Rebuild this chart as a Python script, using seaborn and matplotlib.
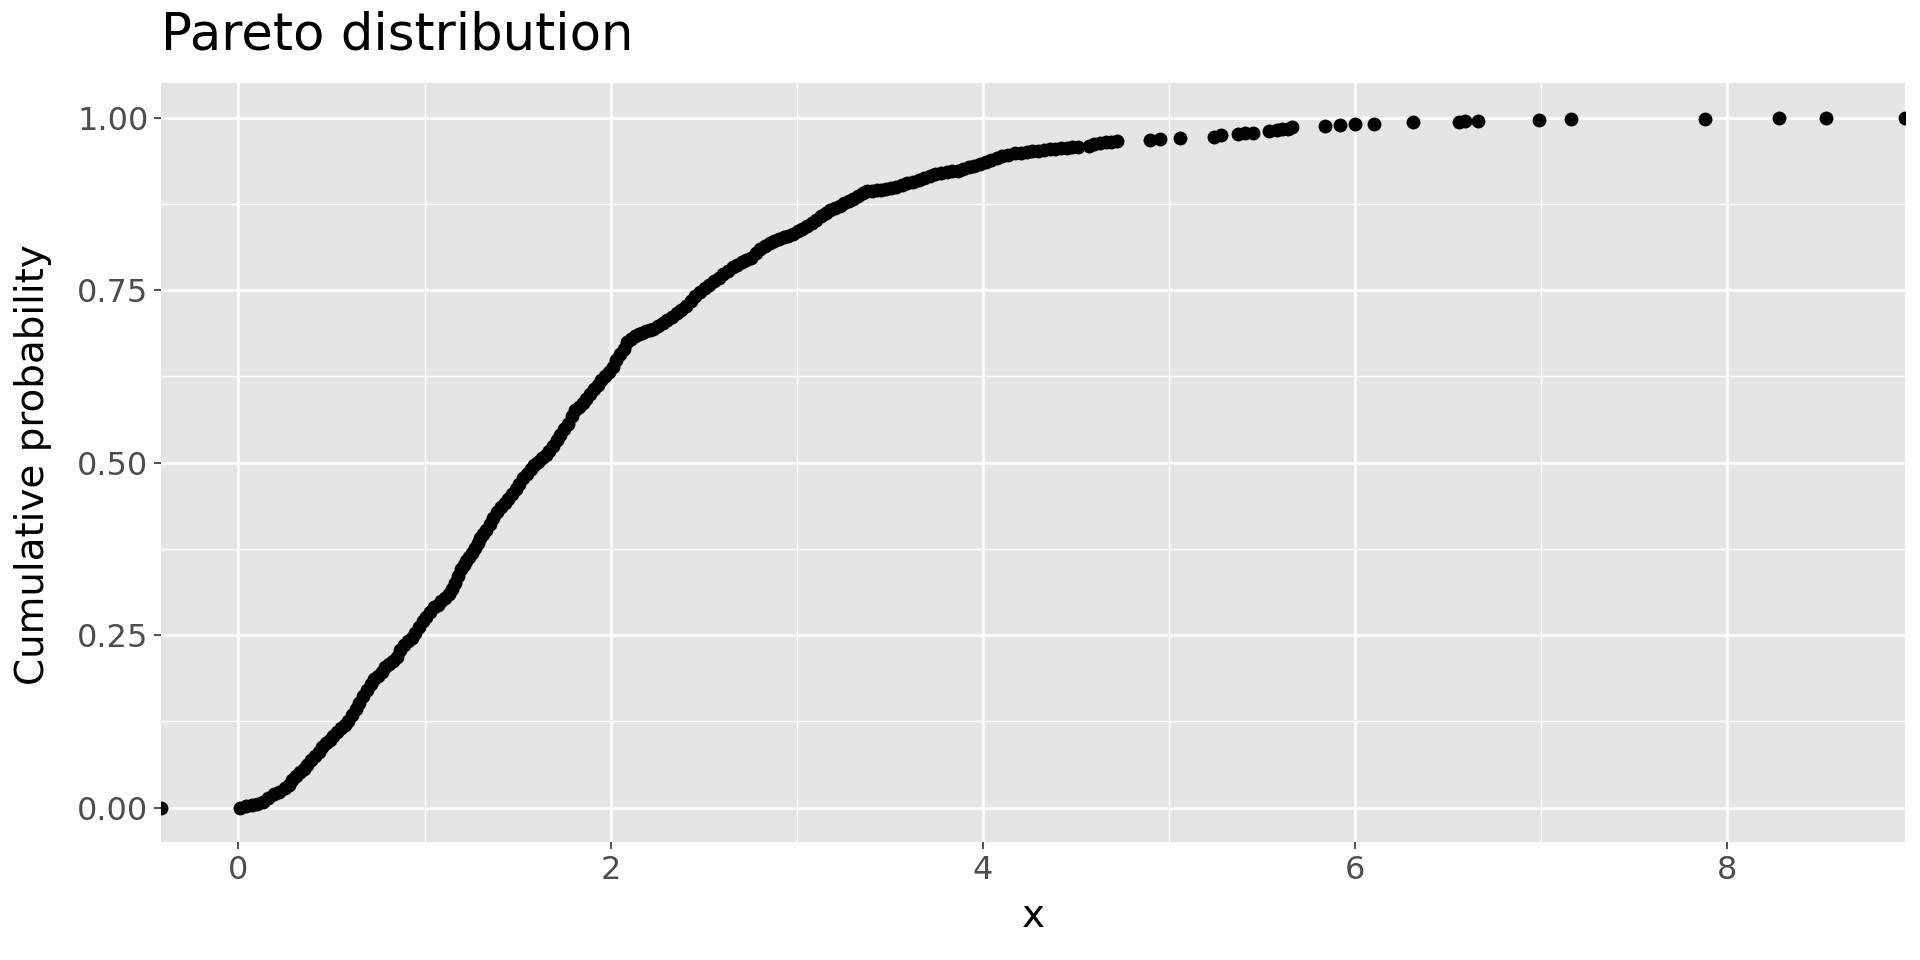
"""
Recreate the empirical CDF chart of a Pareto-like sample (ggplot look).
"""

import matplotlib

matplotlib.use("Agg")
import matplotlib.pyplot as plt
import pandas as pd
import seaborn as sns

TITLE = "Pareto distribution"
X_LABEL = "x"
Y_LABEL = "Cumulative probability"

# ECDF points (x value, cumulative probability)
ecdf_x = [
    0.01, 0.04, 0.07, 0.10, 0.13, 0.16, 0.19, 0.22, 0.25,
    0.27, 0.29, 0.31, 0.33, 0.35, 0.37, 0.39, 0.41, 0.43, 0.45, 0.47, 0.49, 0.51, 0.53, 0.55,
    0.57, 0.59, 0.61, 0.63, 0.65, 0.67, 0.69, 0.71, 0.73, 0.75, 0.77,
    0.79, 0.81, 0.83, 0.85, 0.87, 0.89, 0.91, 0.93, 0.95, 0.97, 0.99, 1.01,
    1.03, 1.05, 1.07, 1.09, 1.11, 1.13, 1.15,
    1.165, 1.18, 1.195, 1.21, 1.225, 1.24, 1.255, 1.27, 1.285, 1.30, 1.315, 1.33,
    1.35, 1.37, 1.39, 1.41, 1.43, 1.45, 1.47, 1.49, 1.51, 1.53, 1.55, 1.57,
    1.59, 1.61, 1.63, 1.65, 1.67, 1.69, 1.71, 1.73, 1.75, 1.77,
    1.79, 1.81, 1.83, 1.85, 1.87, 1.89, 1.91, 1.93, 1.95, 1.97, 1.99, 2.01, 2.03, 2.05, 2.07,
    2.09, 2.11, 2.13, 2.15, 2.17, 2.19, 2.21, 2.23,
    2.255, 2.28, 2.305, 2.33, 2.355, 2.38, 2.405, 2.43, 2.455, 2.48,
    2.505, 2.53, 2.555, 2.58, 2.605, 2.63, 2.655, 2.68, 2.705, 2.73, 2.755,
    2.78, 2.805, 2.83, 2.855, 2.88, 2.905, 2.93, 2.955, 2.98, 3.005,
    3.03, 3.055, 3.08, 3.105, 3.13, 3.155, 3.18, 3.205, 3.23, 3.255, 3.28, 3.305, 3.33, 3.355, 3.38,
    3.405, 3.43, 3.455, 3.48, 3.505,
    3.535, 3.565, 3.595, 3.625, 3.655, 3.685, 3.715, 3.745, 3.775, 3.805, 3.835,
    3.865, 3.895, 3.925, 3.955, 3.985, 4.015, 4.045, 4.075, 4.105, 4.135,
    4.175, 4.205, 4.235, 4.265, 4.295, 4.33, 4.36, 4.39, 4.42, 4.45, 4.48, 4.51,
    4.57, 4.60, 4.63, 4.66, 4.69, 4.72,
    4.90, 4.95, 5.06, 5.24, 5.28, 5.37, 5.41, 5.45, 5.54, 5.58, 5.61, 5.64, 5.66,
    5.84, 5.92, 6.00, 6.10, 6.31, 6.56, 6.59, 6.66, 6.99, 7.16, 7.88, 8.28, 8.53,
]
ecdf_y = [
    0.000, 0.002, 0.003, 0.005, 0.008, 0.014, 0.019, 0.022, 0.028,
    0.033, 0.040, 0.046, 0.051, 0.056, 0.062, 0.069, 0.075, 0.081, 0.087, 0.093, 0.098, 0.104, 0.109, 0.115,
    0.120, 0.126, 0.134, 0.143, 0.152, 0.162, 0.171, 0.179, 0.186, 0.191, 0.196,
    0.203, 0.208, 0.212, 0.218, 0.228, 0.236, 0.241, 0.246, 0.253, 0.262, 0.270, 0.276,
    0.283, 0.290, 0.294, 0.299, 0.304, 0.310, 0.317,
    0.326, 0.336, 0.345, 0.352, 0.358, 0.363, 0.369, 0.376, 0.383, 0.390, 0.396, 0.402,
    0.411, 0.419, 0.428, 0.436, 0.441, 0.447, 0.454, 0.461, 0.469, 0.477, 0.484, 0.490,
    0.496, 0.501, 0.506, 0.511, 0.517, 0.524, 0.532, 0.540, 0.548, 0.556,
    0.568, 0.576, 0.581, 0.586, 0.592, 0.599, 0.606, 0.612, 0.619, 0.625, 0.631, 0.639, 0.648, 0.657, 0.665,
    0.674, 0.679, 0.683, 0.686, 0.688, 0.690, 0.692, 0.694,
    0.698, 0.702, 0.706, 0.711, 0.716, 0.721, 0.727, 0.734, 0.741, 0.747,
    0.753, 0.758, 0.763, 0.768, 0.773, 0.778, 0.783, 0.787, 0.790, 0.793, 0.797,
    0.803, 0.809, 0.814, 0.818, 0.821, 0.824, 0.827, 0.829, 0.831, 0.835,
    0.839, 0.843, 0.847, 0.852, 0.857, 0.862, 0.866, 0.869, 0.872, 0.876, 0.879, 0.882, 0.886, 0.890, 0.893,
    0.894, 0.895, 0.895, 0.896, 0.898,
    0.900, 0.902, 0.905, 0.907, 0.910, 0.912, 0.915, 0.918, 0.920, 0.921, 0.922,
    0.923, 0.925, 0.928, 0.930, 0.933, 0.936, 0.939, 0.941, 0.944, 0.946,
    0.948, 0.949, 0.950, 0.951, 0.952, 0.953, 0.954, 0.955, 0.956, 0.956, 0.957, 0.957,
    0.959, 0.961, 0.963, 0.964, 0.965, 0.966,
    0.968, 0.969, 0.970, 0.972, 0.974, 0.976, 0.977, 0.978, 0.980, 0.982, 0.983, 0.984, 0.986,
    0.988, 0.989, 0.990, 0.991, 0.993, 0.994, 0.995, 0.995, 0.997, 0.998, 0.998, 0.999, 1.000,
]

# ggplot's stat_ecdf pads with (-Inf, 0) and (+Inf, 1): drawn on the panel edges
pad_edge = [0.0, 1.0]
pad_y = [0.0, 1.0]

x_ticks = [0, 2, 4, 6, 8]
x_minor = [1, 3, 5, 7]
y_ticks = [0.0, 0.25, 0.50, 0.75, 1.00]
y_tick_labels = ["0.00", "0.25", "0.50", "0.75", "1.00"]
y_minor = [0.125, 0.375, 0.625, 0.875]

PANEL_BG = "#E5E5E5"
POINT_SIZE = 100


def main() -> None:
    df = pd.DataFrame({"x": ecdf_x, "p": ecdf_y})

    sns.set_theme(style="darkgrid", rc={"axes.facecolor": PANEL_BG})
    plt.rcParams["font.family"] = ["DejaVu Sans"]

    fig = plt.figure(figsize=(19.2, 9.6), dpi=100)
    ax = fig.add_axes([0.0839, 0.1229, 0.9083, 0.7906])

    sns.scatterplot(data=df, x="x", y="p", color="black", s=POINT_SIZE,
                    linewidth=0, ax=ax, zorder=3)
    ax.scatter(pad_edge, pad_y, transform=ax.get_yaxis_transform(),
               color="black", s=POINT_SIZE, linewidths=0, zorder=3, clip_on=True)

    ax.set_xlim(-0.416, 8.956)
    ax.set_ylim(-0.05, 1.05)

    ax.set_xticks(x_ticks)
    ax.set_xticks(x_minor, minor=True)
    ax.set_yticks(y_ticks, labels=y_tick_labels)
    ax.set_yticks(y_minor, minor=True)

    ax.grid(which="major", color="white", linewidth=1.9)
    ax.grid(which="minor", color="white", linewidth=1.0)
    ax.set_axisbelow(True)
    for spine in ax.spines.values():
        spine.set_visible(False)

    ax.tick_params(which="major", bottom=True, left=True, length=5, width=1.2,
                   color="#333333", labelsize=23, labelcolor="#4D4D4D", pad=4)
    ax.tick_params(which="minor", length=0)
    ax.set_xlabel("")
    ax.set_ylabel("")

    fig.text(0.0839, 1 - 50 / 960, TITLE, fontsize=37, ha="left", va="baseline",
             color="black")
    fig.text(0.0174, 0.5156, Y_LABEL, fontsize=28, rotation=90, ha="center",
             va="center", color="black")
    fig.text(0.538, 1 - 916 / 960, X_LABEL, fontsize=28, ha="center", va="center",
             color="black")

    fig.savefig("out.png", dpi=100, facecolor="white")
    plt.close(fig)


if __name__ == "__main__":
    main()
